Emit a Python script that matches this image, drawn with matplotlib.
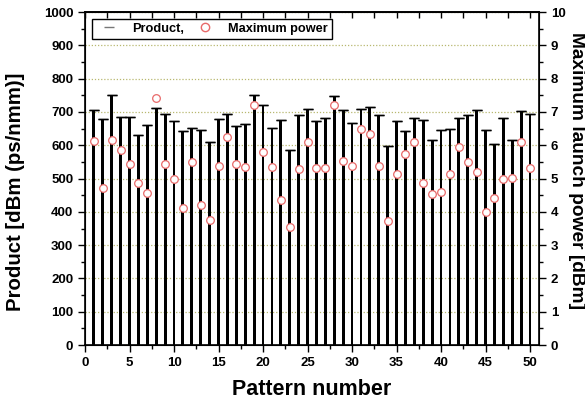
import matplotlib
matplotlib.use("Agg")
import matplotlib.pyplot as plt
from matplotlib.lines import Line2D
from matplotlib.ticker import MultipleLocator

plt.rcParams['font.family'] = ['Liberation Sans', 'DejaVu Sans']
plt.rcParams['font.weight'] = 'bold'

# pattern index and values
pattern = list(range(1, 51))
product = [705, 678, 750, 684, 684, 631, 661, 713, 695, 673,
           644, 651, 647, 610, 680, 695, 657, 665, 750, 720,
           653, 675, 585, 690, 708, 672, 683, 747, 705, 668,
           710, 715, 692, 597, 672, 642, 682, 677, 617, 645,
           650, 682, 690, 705, 645, 605, 682, 615, 702, 693]
max_power = [6.13, 4.72, 6.15, 5.85, 5.45, 4.87, 4.58, 7.41, 5.45, 5.00,
             4.13, 5.50, 4.20, 3.77, 5.37, 6.24, 5.45, 5.35, 7.22, 5.81,
             5.36, 4.35, 3.55, 5.28, 6.10, 5.33, 5.33, 7.20, 5.52, 5.37,
             6.50, 6.33, 5.39, 3.72, 5.13, 5.75, 6.09, 4.88, 4.53, 4.59,
             5.13, 5.95, 5.49, 5.19, 4.01, 4.42, 4.99, 5.03, 6.10, 5.32]

fig = plt.figure(figsize=(5.85, 4.04), dpi=100)
ax = fig.add_axes([0.1453, 0.146, 0.776, 0.824])

ax.yaxis.grid(True, linestyle=(0, (1, 1.5)), color='#b8b870', linewidth=0.9)
ax.set_axisbelow(True)
ax.bar(pattern, product, width=0.32, color='black', zorder=2)
ax.errorbar(pattern, product, yerr=0, fmt='none', ecolor='black',
            capsize=3.5, capthick=1.0, zorder=3)

ax.set_xlim(0, 51)
ax.set_ylim(0, 1000)
ax.xaxis.set_major_locator(MultipleLocator(5))
ax.xaxis.set_minor_locator(MultipleLocator(2.5))
ax.yaxis.set_major_locator(MultipleLocator(100))
ax.yaxis.set_minor_locator(MultipleLocator(50))
ax.tick_params(which='both', direction='out', labelsize=9.5, width=1)
ax.tick_params(which='major', length=5)
ax.tick_params(which='minor', length=3)
ax.set_xlabel('Pattern number', fontsize=15.5, fontweight='bold', labelpad=7)
ax.set_ylabel('Product [dBm (ps/nmm)]', fontsize=14.7, fontweight='bold')
ax.yaxis.set_label_coords(-0.132, 0.459)
for sp in ax.spines.values():
    sp.set_linewidth(1.2)

top = ax.secondary_xaxis('top')
top.xaxis.set_major_locator(MultipleLocator(5))
top.xaxis.set_minor_locator(MultipleLocator(2.5))
top.tick_params(which='both', direction='in', labeltop=False, length=4, width=1)
top.spines['top'].set_linewidth(1.2)

ax2 = ax.twinx()
ax2.plot(pattern, max_power, linestyle='none', marker='o', markersize=5.5,
         markerfacecolor='white', markeredgecolor='#e86a6a', markeredgewidth=0.9,
         zorder=4)
ax2.set_ylim(0, 10)
ax2.yaxis.set_major_locator(MultipleLocator(1))
ax2.yaxis.set_minor_locator(MultipleLocator(0.5))
ax2.tick_params(which='both', direction='out', labelsize=9.5, width=1)
ax2.tick_params(which='major', length=5)
ax2.tick_params(which='minor', length=3)
ax2.set_ylabel('Maximum launch power [dBm]', fontsize=13.8, fontweight='bold',
               rotation=-90)
ax2.yaxis.label.set_va('bottom')
ax2.yaxis.set_label_coords(1.064, 0.523)

handles = [Line2D([], [], linestyle='none', marker='_', markersize=7, color='#777777'),
           Line2D([], [], linestyle='none', marker='o', markersize=6,
                  markerfacecolor='white', markeredgecolor='#e86a6a')]
leg = ax2.legend(handles, ['Product,', 'Maximum power'], loc='upper left',
                 bbox_to_anchor=(0.0154, 0.979), ncol=2, fancybox=False,
                 edgecolor='black', framealpha=1, fontsize=9.2,
                 borderpad=0.3, handlelength=2.05, columnspacing=0.6,
                 handletextpad=0.8, borderaxespad=0)
leg.get_frame().set_linewidth(1.0)

fig.savefig('out.png', dpi=100)
